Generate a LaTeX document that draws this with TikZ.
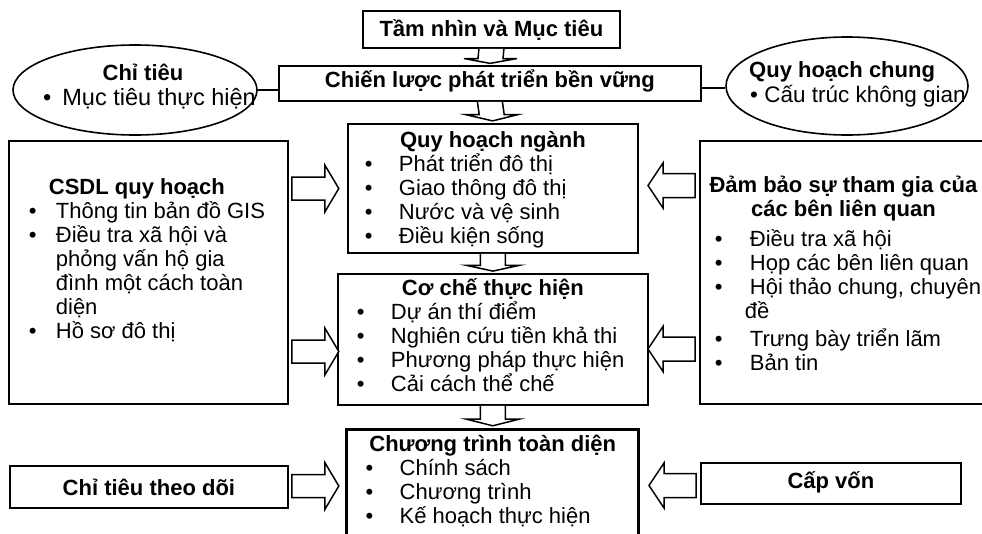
\documentclass[tikz,border=0pt]{standalone}
\usepackage{fontspec}
\setmainfont{Liberation Sans}
\usetikzlibrary{calc,shapes.geometric}
\newlength\bpad \newlength\bcol
\newcommand\itm[1]{\par\noindent\hspace*{\bpad}\makebox[\bcol][l]{\textbullet}#1}
\newcommand\bx[4]{\parbox[c][#2][t]{#1}{\lineskiplimit=-100pt\lineskip=0pt\parskip=0pt\vspace*{#3}\mbox{}\par #4\par}}
\newcommand\darr[2]{%
  \coordinate (ds) at ($(#1.south)!0.6!(#2.north)$);
  \coordinate (dt) at ($(#1.south)!0.9!(#2.north)$);
  \draw[blk] ([xshift=-12.5pt]#1.south) -- ([xshift=-12.5pt]ds) -- ([xshift=-26.5pt]ds) -- (dt)
     -- ([xshift=26.5pt]ds) -- ([xshift=12.5pt]ds) -- ([xshift=12.5pt]#1.south);}
\newcommand\rarr[2]{\draw[blk] (#1.east |- 0,#2) ++(3,-11.5) -- ++(33,0) -- ++(0,-12) -- ++(14,23.5)
   -- ++(-14,23.5) -- ++(0,-12) -- ++(-33,0) -- cycle;}
\newcommand\larr[2]{\draw[blk] (#1.west |- 0,#2) ++(-4,-12) -- ++(-32,0) -- ++(0,-10.5) -- ++(-15,22.5)
   -- ++(15,22.5) -- ++(0,-10.5) -- ++(32,0) -- cycle;}
\tikzset{
  box/.style={draw, line width=1.8pt, inner sep=0pt, anchor=north west, font=\fontsize{22}{24}\selectfont},
  txt/.style={inner sep=0pt, font=\fontsize{22}{24}\selectfont},
  blk/.style={draw, line width=1.5pt, line join=miter, fill=white},
  ell/.style={draw, ellipse, line width=1.6pt, inner sep=0pt},
}
\begin{document}
\begin{tikzpicture}[x=1pt,y=-1pt]
\useasboundingbox (0,0) rectangle (982,533);
\clip (0,0) rectangle (982,533);
\fill[white] (0,0) rectangle (982,533);

% top chain
\node[box, minimum width=257pt, minimum height=37pt, text height=14pt, text depth=0pt] (tam) at (362,10) {\bfseries Tầm nhìn và Mục tiêu};
\node[box, minimum width=422pt, minimum height=35pt, text height=8pt, text depth=0pt] (cl) at (278,65) {\bfseries Chiến lược phát triển bền vững};

% ellipses
\node[ell, minimum width=244pt, minimum height=90pt] (ellL) at (135,90) {};
\node[ell, minimum width=242pt, minimum height=98pt] (ellR) at (847,86) {};
\node[txt, anchor=base] (ellLa) at (143,80) {\bfseries Chỉ tiêu};
\node[txt, anchor=base west, font=\fontsize{23.5}{24}\selectfont] (ellLb) at (43,105) {\textbullet\hspace{11pt}Mục tiêu thực hiện};
\node[txt, anchor=base west] (ellRa) at (749,77) {\bfseries Quy hoạch chung};
\node[txt, anchor=base west, font=\fontsize{22.5}{24}\selectfont] (ellRb) at (750,102) {\textbullet\ Cấu trúc không gian};
\draw[line width=1.6pt] (ellL.east) -- (ellL.east -| cl.west);
\draw[line width=1.6pt] (ellR.181.5) -- (ellR.181.5 -| cl.east);

% centre boxes
\node[box] (qh) at (347,123) {\bx{290pt}{129pt}{0pt}{\setlength\bpad{17pt}\setlength\bcol{34pt}%
  {\centering\bfseries Quy hoạch ngành\par}%
  \itm{Phát triển đô thị}\itm{Giao thông đô thị}\itm{Nước và vệ sinh}\itm{Điều kiện sống}}};
\node[box] (cc) at (337,273) {\bx{310pt}{131pt}{-2pt}{\setlength\bpad{19pt}\setlength\bcol{34pt}%
  {\centering\bfseries Cơ chế thực hiện\par}%
  \itm{Dự án thí điểm}\itm{Nghiên cứu tiền khả thi}\itm{Phương pháp thực hiện}\itm{Cải cách thể chế}}};
\node[box, line width=3.4pt] (ct) at (345,428) {\bx{292pt}{125pt}{-2pt}{\setlength\bpad{19pt}\setlength\bcol{34pt}%
  {\centering\bfseries Chương trình toàn diện\par}%
  \itm{Chính sách}\itm{Chương trình}\itm{Kế hoạch thực hiện}}};

% side boxes
\node[box] (csdl) at (8,140) {\bx{279pt}{263pt}{30pt}{\setlength\bpad{20pt}\setlength\bcol{27pt}%
  \noindent\hspace*{40pt}\textbf{CSDL quy hoạch}\par
  \itm{Thông tin bản đồ GIS}%
  \itm{Điều tra xã hội và\newline\hspace*{47pt}phỏng vấn hộ gia\newline\hspace*{47pt}đình một cách toàn\newline\hspace*{47pt}diện}%
  \itm{Hồ sơ đô thị}}};
\node[box] (rb) at (699,140) {\bx{287pt}{263pt}{28pt}{\setlength\bpad{15pt}\setlength\bcol{35pt}%
  {\centering\bfseries Đảm bảo sự tham gia của\\ các bên liên quan\par}%
  \vspace{6pt}%
  \itm{Điều tra xã hội}\itm{Họp các bên liên quan}%
  \itm{Hội thảo chung, chuyên\newline\hspace*{45pt}đề}%
  \vspace{4pt}%
  \itm{Trưng bày triển lãm}\itm{Bản tin}}};

% bottom side boxes
\node[box, minimum width=278pt, minimum height=42pt, text height=18pt, text depth=0pt] (ctd) at (9,465) {\bfseries Chỉ tiêu theo dõi};
\node[box, minimum width=260pt, minimum height=41pt, text height=11pt, text depth=0pt] (cv) at (700,462) {\bfseries Cấp vốn};

% down arrows
\darr{tam}{cl}
\darr{cl}{qh}
\darr{qh}{cc}
\darr{cc}{ct}

% side arrows
\rarr{csdl}{188.5}
\rarr{csdl}{351.5}
\rarr{ctd}{486}
\larr{rb}{185.5}
\larr{rb}{349}
\larr{cv}{485.5}
\end{tikzpicture}
\end{document}
